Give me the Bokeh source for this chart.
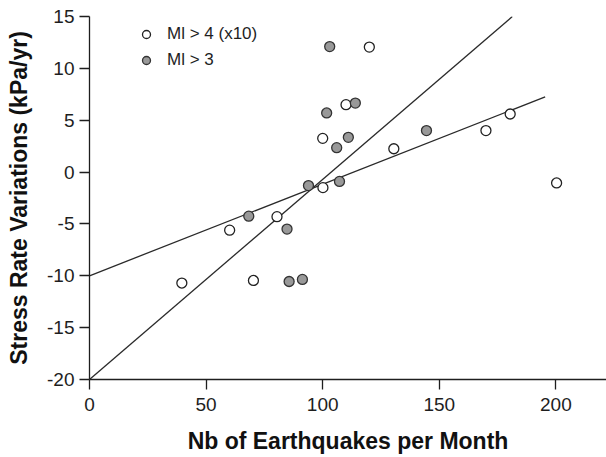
from bokeh.plotting import figure
from bokeh.models import (Range1d, Legend, LegendItem, FixedTicker, ColumnDataSource,
                          CustomJSTickFormatter)
from bokeh.embed import file_html
from bokeh.resources import INLINE

# Ml > 4 (x10) -- open circles
ml4_x = [39.6, 60.1, 70.3, 80.4, 100.0, 100.1, 110.0, 120.0, 130.5, 170.0, 180.4, 200.3]
ml4_y = [-10.7, -5.6, -10.45, -4.3, 3.25, -1.5, 6.5, 12.05, 2.25, 4.0, 5.6, -1.05]

# Ml > 3 -- grey circles
ml3_x = [68.3, 84.7, 85.6, 91.3, 93.9, 101.7, 103.0, 106.0, 107.2, 111.0, 114.0, 144.5]
ml3_y = [-4.25, -5.5, -10.55, -10.35, -1.3, 5.7, 12.1, 2.35, -0.9, 3.35, 6.65, 4.0]

# regression lines: intercept, slope, x extent
fit_intercept = [-20.0, -10.0]
fit_slope = [0.193, 0.0883]
fit_x_start = [0.0, 0.0]
fit_x_end = [181.3, 195.4]

x_ticks = [0, 50, 100, 150, 200]
y_ticks = [-20, -15, -10, -5, 0, 5, 10, 15]

x_label = "Nb of Earthquakes per Month"
y_label = "Stress Rate Variations (kPa/yr)"
legend_labels = ["Ml > 4 (x10)", "Ml > 3"]

FONT = "Liberation Sans"
INK = "#1e1e1e"

p = figure(width=606, height=457, output_backend="svg", toolbar_location=None,
           x_range=Range1d(0, 221.7), y_range=Range1d(-20, 15),
           min_border_left=89, min_border_right=0, min_border_top=16, min_border_bottom=78)

p.outline_line_color = None
p.xgrid.visible = False
p.ygrid.visible = False
p.background_fill_color = "white"
p.border_fill_color = "white"

for ax, ticks in ((p.xaxis[0], x_ticks), (p.yaxis[0], y_ticks)):
    ax.ticker = FixedTicker(ticks=ticks)
    ax.formatter = CustomJSTickFormatter(code="return tick.toFixed(0);")
    ax.minor_tick_line_color = None
    ax.major_tick_in = 0
    ax.major_tick_out = 10
    ax.major_tick_line_color = INK
    ax.major_tick_line_width = 1.3
    ax.axis_line_color = INK
    ax.axis_line_width = 1.3
    ax.major_label_text_font = FONT
    ax.major_label_text_font_size = "19px"
    ax.major_label_text_color = INK
    ax.axis_label_text_font = FONT
    ax.axis_label_text_font_size = "23px"
    ax.axis_label_text_font_style = "bold"
    ax.axis_label_text_color = "#111111"

p.xaxis.axis_label = x_label
p.yaxis.axis_label = y_label
p.xaxis.major_label_standoff = 8
p.yaxis.major_label_standoff = 5
p.xaxis.axis_label_standoff = 14
p.yaxis.axis_label_standoff = 12

# regression lines
for b, m, xs, xe in zip(fit_intercept, fit_slope, fit_x_start, fit_x_end):
    p.line([xs, xe], [b + m * xs, b + m * xe], line_color="#2a2a2a", line_width=1.3)

src4 = ColumnDataSource(dict(x=ml4_x, y=ml4_y))
src3 = ColumnDataSource(dict(x=ml3_x, y=ml3_y))
r4 = p.scatter("x", "y", source=src4, size=10, marker="circle",
               fill_color="white", line_color="#222222", line_width=1.3)
r3 = p.scatter("x", "y", source=src3, size=10, marker="circle",
               fill_color="#999999", line_color="#333333", line_width=1.3)

legend = Legend(items=[LegendItem(label=legend_labels[0], renderers=[r4]),
                       LegendItem(label=legend_labels[1], renderers=[r3])],
                location=(47, 308), padding=0, margin=0, spacing=4,
                glyph_width=20, glyph_height=22, label_height=22,
                label_standoff=11, label_text_font=FONT,
                label_text_font_size="17px", label_text_color=INK,
                background_fill_alpha=0, border_line_alpha=0)
p.add_layout(legend)

open("out.html", "w").write(file_html(p, INLINE))
